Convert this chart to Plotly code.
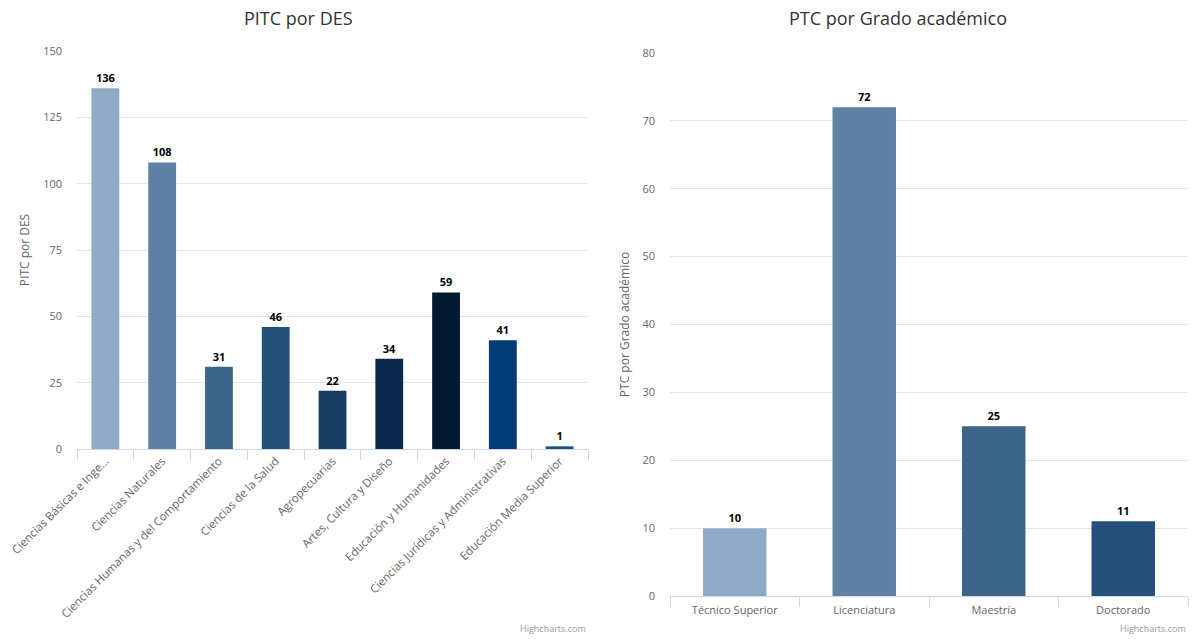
import plotly.graph_objects as go

des_categories = ["Ciencias Básicas e Inge...", "Ciencias Naturales",
                  "Ciencias Humanas y del Comportamiento", "Ciencias de la Salud",
                  "Agropecuarias", "Artes, Cultura y Diseño", "Educación y Humanidades",
                  "Ciencias Jurídicas y Administrativas", "Educación Media Superior"]
des_values = [136, 108, 31, 46, 22, 34, 59, 41, 1]
des_colors = ["#8eaac6", "#5f82a4", "#3c6589", "#24507a", "#173d62",
              "#0b2a4d", "#041a31", "#003c78", "#1c4f82"]

grado_categories = ["Técnico Superior", "Licenciatura", "Maestría", "Doctorado"]
grado_values = [10, 72, 25, 11]
grado_colors = ["#8eaac6", "#5f82a4", "#3c6589", "#24507a"]

W, H = 1195, 639
FONT = "Open Sans"

fig = go.Figure()
fig.add_trace(go.Bar(x=des_categories, y=des_values, marker=dict(color=des_colors, line=dict(width=0)),
                     text=des_values, textposition="outside", cliponaxis=False,
                     textfont=dict(size=11, color="#000", family=FONT, weight="bold"),
                     xaxis="x", yaxis="y", hoverinfo="x+y"))
fig.add_trace(go.Bar(x=grado_categories, y=grado_values, marker=dict(color=grado_colors, line=dict(width=0)),
                     text=grado_values, textposition="outside", cliponaxis=False,
                     textfont=dict(size=11, color="#000", family=FONT, weight="bold"),
                     xaxis="x2", yaxis="y2", hoverinfo="x+y"))

xcommon = dict(showline=True, linecolor="#ccd6eb", linewidth=1, ticks="outside", tickson="boundaries",
               ticklen=10, tickcolor="#ccd6eb", showgrid=False, automargin=False, fixedrange=True)
ycommon = dict(showgrid=True, gridcolor="#e6e6e6", gridwidth=1, zeroline=False, showline=False,
               tickfont=dict(size=11, color="#666", family=FONT), ticklabelstandoff=14,
               automargin=False, fixedrange=True)

fig.update_layout(
    width=W, height=H,
    margin=dict(l=0, r=0, t=0, b=0),
    paper_bgcolor="white", plot_bgcolor="white",
    showlegend=False, bargap=0.51,
    font=dict(family=FONT, color="#666"),
    xaxis=dict(domain=[77 / W, 588 / W], anchor="y", tickangle=-45,
               tickfont=dict(size=11.5, color="#666", family=FONT), **xcommon),
    yaxis=dict(domain=[1 - 449 / H, 1 - 51 / H], anchor="x", range=[0, 150], dtick=25,
               title=dict(text="PITC por DES", font=dict(size=12, color="#666", family=FONT), standoff=10),
               **ycommon),
    xaxis2=dict(domain=[670 / W, 1188 / W], anchor="y2", tickangle=0, ticklabelstandoff=4,
                tickfont=dict(size=11, color="#666", family=FONT), **xcommon),
    yaxis2=dict(domain=[1 - 596 / H, 1 - 53 / H], anchor="x2", range=[0, 80], dtick=10,
                title=dict(text="PTC por Grado académico", font=dict(size=12, color="#666", family=FONT), standoff=10),
                **ycommon),
    annotations=[
        dict(text="PITC por DES", x=298 / W, y=1 - 18 / H, xref="paper", yref="paper",
             showarrow=False, font=dict(size=18, color="#333", family=FONT), xanchor="center", yanchor="middle"),
        dict(text="PTC por Grado académico", x=898 / W, y=1 - 18 / H, xref="paper", yref="paper",
             showarrow=False, font=dict(size=18, color="#333", family=FONT), xanchor="center", yanchor="middle"),
        dict(text="Highcharts.com", x=588 / W, y=1 - 628 / H, xref="paper", yref="paper",
             showarrow=False, font=dict(size=9, color="#999", family=FONT), xanchor="right", yanchor="middle"),
        dict(text="Highcharts.com", x=1188 / W, y=1 - 628 / H, xref="paper", yref="paper",
             showarrow=False, font=dict(size=9, color="#999", family=FONT), xanchor="right", yanchor="middle"),
    ],
)

fig.write_html("out.html")
